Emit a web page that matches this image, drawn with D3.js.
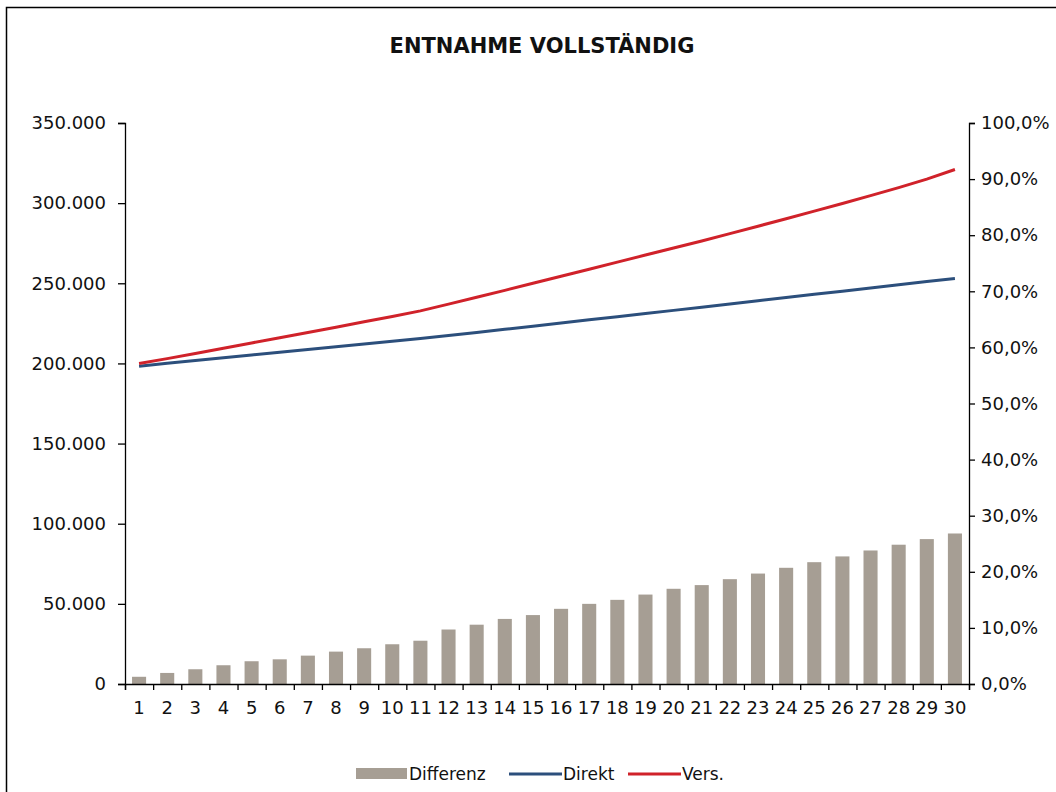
<!DOCTYPE html>
<html>
<head>
<meta charset="utf-8">
<script src="https://cdn.jsdelivr.net/npm/d3@7"></script>
<style>
  body { margin: 0; background: #fff; }
  text { font-family: "DejaVu Sans", Arial, sans-serif; fill: #111; }
</style>
</head>
<body>
<div id="chart"></div>
<script>
// chart data
var years = d3.range(1, 31).map(String);
var differenz = [4500, 6900, 9200, 11700, 14200, 15400, 17700, 20200, 22300, 24800,
                 27000, 34000, 37000, 40600, 43000, 46900, 50000, 52500, 55800, 59400,
                 61700, 65400, 68900, 72500, 76000, 79600, 83300, 86900, 90400, 93900];
var direkt = [198300, 200100, 201900, 203600, 205300, 207000, 208700, 210400, 212100, 213800,
              215500, 217400, 219300, 221300, 223200, 225200, 227200, 229100, 231100, 233100,
              235100, 237100, 239100, 241100, 243100, 245100, 247100, 249100, 251100, 253000];
var vers = [200000, 203000, 206200, 209500, 212800, 216000, 219300, 222600, 226000, 229300,
            232800, 237000, 241300, 245600, 250000, 254400, 258800, 263200, 267600, 272000,
            276400, 281000, 285600, 290300, 295000, 299800, 304700, 309700, 315000, 321000];
var leftTicks = [0, 50000, 100000, 150000, 200000, 250000, 300000, 350000];
var rightTicks = [0, 0.1, 0.2, 0.3, 0.4, 0.5, 0.6, 0.7, 0.8, 0.9, 1.0];

var colors = {bar: "#a69e94", direkt: "#2c4f7c", vers: "#d0222a"};

var width = 1056, height = 792;
var plot = {left: 125, right: 969, top: 123, bottom: 684};

var svg = d3.select("#chart")
  .append("svg")
    .attr("width", width)
    .attr("height", height);

// outer frame
svg.append("rect")
  .attr("x", 6.5).attr("y", 7.5)
  .attr("width", 1060).attr("height", 800)
  .attr("fill", "#fff")
  .attr("stroke", "#000")
  .attr("stroke-width", 1.5);

svg.append("text")
  .attr("x", 542).attr("y", 53)
  .attr("text-anchor", "middle")
  .style("font-size", "21px")
  .style("font-weight", "bold")
  .text("ENTNAHME VOLLSTÄNDIG");

var x = d3.scaleBand()
  .domain(years)
  .range([plot.left, plot.right])
  .paddingInner(0.5)
  .paddingOuter(0.25);

var xEdges = d3.scaleLinear().domain([0, 30]).range([plot.left, plot.right]);

var yLeft = d3.scaleLinear().domain([0, 350000]).range([plot.bottom, plot.top]);
var yRight = d3.scaleLinear().domain([0, 1]).range([plot.bottom, plot.top]);

var fmtLeft = function(d) { return d3.format(",")(d).replace(/,/g, "."); };
var fmtRight = function(d) { return d3.format(".1f")(d * 100).replace(".", ",") + "%"; };

// bars
svg.append("g")
  .selectAll("rect")
  .data(differenz)
  .enter()
  .append("rect")
    .attr("x", function(d, i) { return x(years[i]); })
    .attr("width", x.bandwidth())
    .attr("y", function(d) { return yLeft(d); })
    .attr("height", function(d) { return plot.bottom - yLeft(d); })
    .attr("fill", colors.bar);

// lines
var line = d3.line()
  .x(function(d, i) { return x(years[i]) + x.bandwidth() / 2; })
  .y(function(d) { return yLeft(d); });

svg.append("path")
  .datum(direkt)
  .attr("d", line)
  .attr("fill", "none")
  .attr("stroke", colors.direkt)
  .attr("stroke-width", 3);

svg.append("path")
  .datum(vers)
  .attr("d", line)
  .attr("fill", "none")
  .attr("stroke", colors.vers)
  .attr("stroke-width", 3);

// axes
var gl = svg.append("g")
  .attr("transform", "translate(" + plot.left + ",0)")
  .call(d3.axisLeft(yLeft).tickValues(leftTicks).tickFormat(fmtLeft).tickSizeOuter(0).tickSize(7).tickPadding(12));

var gr = svg.append("g")
  .attr("transform", "translate(" + plot.right + ",0)")
  .call(d3.axisRight(yRight).tickValues(rightTicks).tickFormat(fmtRight).tickSizeOuter(0).tickSize(6).tickPadding(6));

var gx = svg.append("g")
  .attr("transform", "translate(0," + plot.bottom + ")")
  .call(d3.axisBottom(xEdges).tickValues(d3.range(0, 31)).tickFormat("").tickSizeOuter(0).tickSize(6));

var gxl = svg.append("g")
  .attr("transform", "translate(0," + plot.bottom + ")")
  .call(d3.axisBottom(x).tickSize(0).tickPadding(17));
gxl.select(".domain").remove();

[gl, gr, gx, gxl].forEach(function(g) {
  g.selectAll("text")
    .style("font-family", "'DejaVu Sans', Arial, sans-serif")
    .style("font-size", "18px")
    .attr("fill", "#111");
  g.selectAll("line, path").attr("stroke", "#000").attr("stroke-width", 1.3);
});

// legend
var legend = svg.append("g").attr("transform", "translate(0,774)");
legend.append("rect")
  .attr("x", 356).attr("y", -6).attr("width", 51).attr("height", 11)
  .attr("fill", colors.bar);
legend.append("text").attr("x", 409).attr("y", 6).style("font-size", "17px").text("Differenz");
legend.append("line")
  .attr("x1", 509).attr("x2", 562).attr("y1", 0).attr("y2", 0)
  .attr("stroke", colors.direkt).attr("stroke-width", 3);
legend.append("text").attr("x", 563).attr("y", 6).style("font-size", "17px").text("Direkt");
legend.append("line")
  .attr("x1", 628).attr("x2", 681).attr("y1", 0).attr("y2", 0)
  .attr("stroke", colors.vers).attr("stroke-width", 3);
legend.append("text").attr("x", 682).attr("y", 6).style("font-size", "17px").text("Vers.");
</script>
</body>
</html>
